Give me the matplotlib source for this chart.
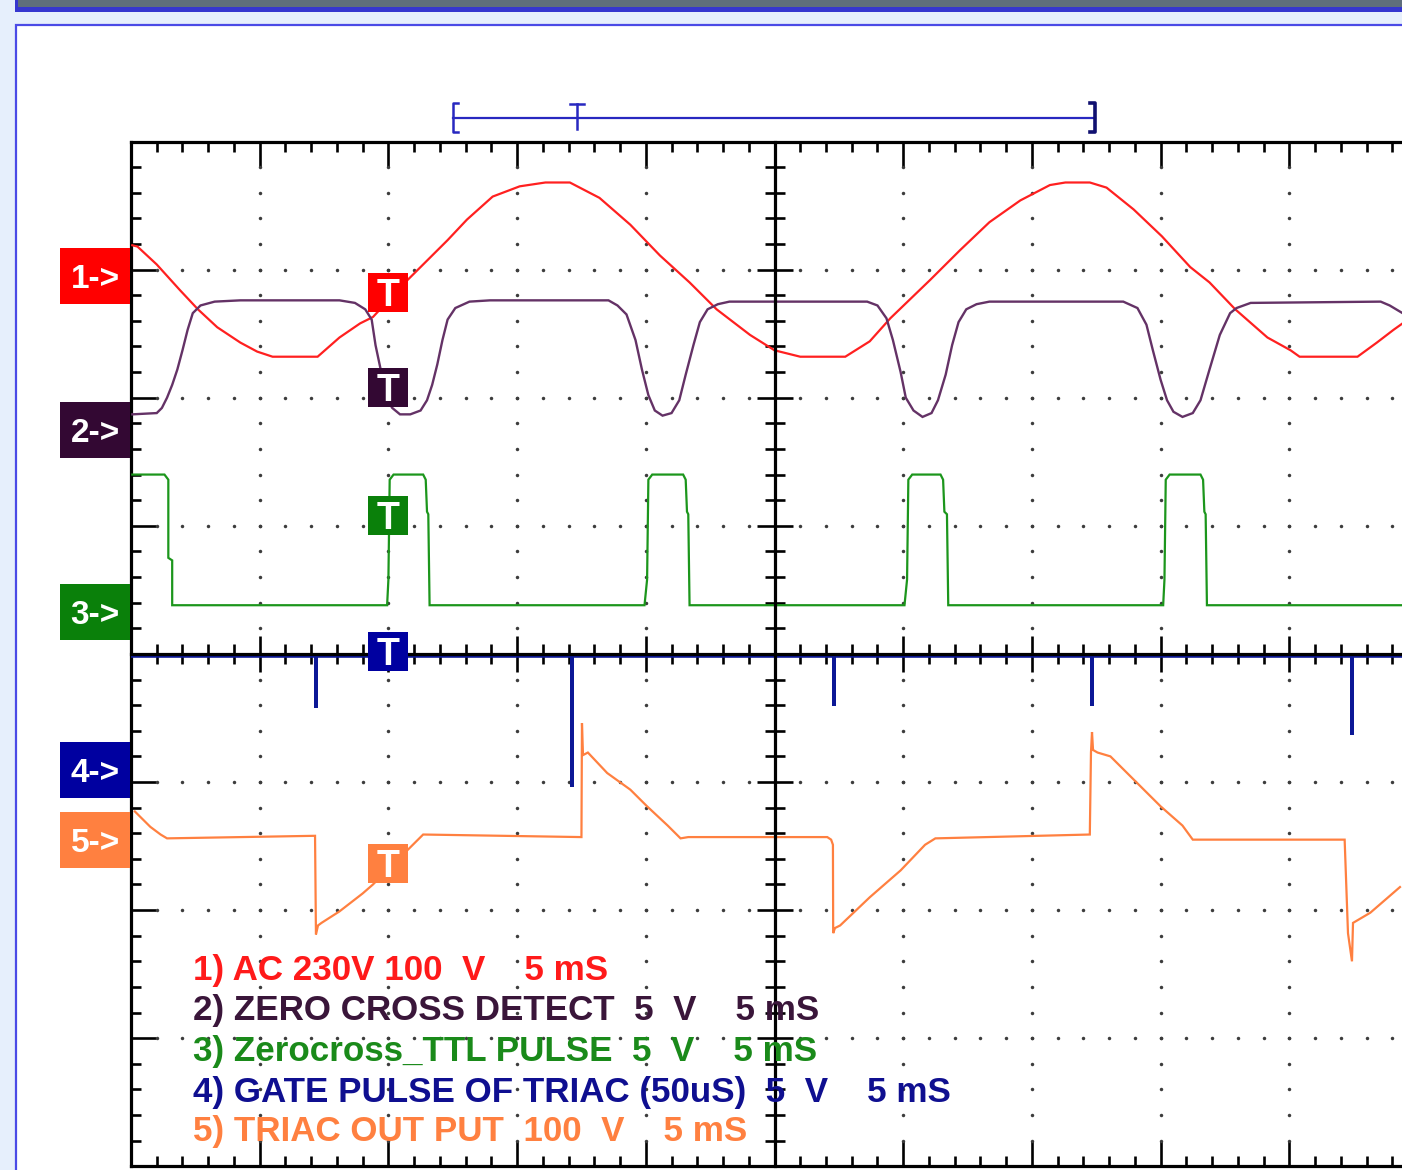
import matplotlib
matplotlib.use('Agg')
import matplotlib.pyplot as plt
import matplotlib.transforms as mtrans
from matplotlib.patches import Rectangle
from matplotlib.ticker import MultipleLocator
import numpy as np

plt.rcParams['font.family'] = ['Liberation Sans', 'DejaVu Sans']

# ---------------- data (time in divisions of 5 ms, level in divisions) ----------------
# CH1 : AC 230V mains
ch1_t = [0.01, 0.05, 0.20, 0.38, 0.52, 0.67, 0.85, 0.98, 1.10, 1.45,
         1.62, 1.78, 1.88, 2.15, 2.25, 2.46, 2.61, 2.81, 3.02, 3.22,
         3.41, 3.64, 3.88, 4.11, 4.34, 4.55, 4.81, 5.00, 5.20, 5.55,
         5.74, 5.90, 6.21, 6.44, 6.67, 6.91, 7.14, 7.26, 7.45, 7.58,
         7.79, 8.01, 8.23, 8.38, 8.58, 8.83, 9.01, 9.08, 9.53, 9.68,
         9.81, 9.88]
ch1_v = [3.19, 3.18, 3.04, 2.84, 2.69, 2.55, 2.43, 2.36, 2.32, 2.32,
         2.47, 2.58, 2.63, 2.92, 3.02, 3.23, 3.39, 3.57, 3.65, 3.68,
         3.68, 3.56, 3.35, 3.11, 2.90, 2.69, 2.49, 2.37, 2.32, 2.32,
         2.44, 2.62, 2.92, 3.15, 3.37, 3.54, 3.66, 3.68, 3.68, 3.64,
         3.47, 3.26, 3.02, 2.90, 2.69, 2.47, 2.37, 2.32, 2.32, 2.43,
         2.53, 2.58]

# CH2 : zero cross detect
ch2_t = [0.01, 0.20, 0.24, 0.28, 0.32, 0.36, 0.40, 0.44, 0.48, 0.54, 0.65, 0.85, 1.31,
         1.62, 1.74, 1.82, 1.87, 1.90, 1.94, 1.97, 2.03, 2.09, 2.17, 2.25, 2.30, 2.34,
         2.38, 2.42, 2.46, 2.52, 2.63, 2.79,
         3.71, 3.78, 3.85, 3.92, 3.97, 4.02, 4.07, 4.13, 4.20, 4.26, 4.31, 4.37, 4.42,
         4.48, 4.56, 4.65,
         5.72, 5.80, 5.87, 5.92, 5.98, 6.02, 6.08, 6.15, 6.22, 6.27, 6.33, 6.38, 6.43,
         6.49, 6.57, 6.67,
         7.71, 7.82, 7.89, 7.94, 8.00, 8.05, 8.10, 8.17, 8.25, 8.31, 8.38, 8.46, 8.54,
         8.59, 8.70,
         9.71, 9.78, 9.88]
ch2_v = [1.87, 1.88, 1.92, 2.00, 2.10, 2.22, 2.37, 2.53, 2.66, 2.72, 2.75, 2.76, 2.76,
         2.76, 2.74, 2.69, 2.61, 2.41, 2.22, 2.02, 1.92, 1.87, 1.87, 1.90, 1.98, 2.10,
         2.26, 2.45, 2.61, 2.70, 2.75, 2.76,
         2.76, 2.72, 2.65, 2.45, 2.22, 2.02, 1.90, 1.86, 1.88, 1.98, 2.18, 2.41, 2.59,
         2.69, 2.73, 2.75,
         2.75, 2.72, 2.62, 2.45, 2.20, 2.00, 1.90, 1.85, 1.88, 1.98, 2.18, 2.41, 2.59,
         2.69, 2.73, 2.75,
         2.75, 2.70, 2.57, 2.37, 2.14, 1.98, 1.89, 1.85, 1.88, 1.98, 2.22, 2.49, 2.66,
         2.70, 2.74,
         2.75, 2.72, 2.66]

# CH3 : zero cross TTL pulse
ch3_t = [0.01, 0.26, 0.29, 0.29, 0.32, 0.32,
         1.99, 2.00, 2.01, 2.04, 2.27, 2.29, 2.30, 2.31, 2.32,
         3.99, 4.01, 4.02, 4.05, 4.29, 4.31, 4.32, 4.33, 4.34,
         6.01, 6.03, 6.04, 6.07, 6.29, 6.31, 6.32, 6.34, 6.35,
         8.02, 8.03, 8.04, 8.07, 8.31, 8.33, 8.34, 8.35, 8.36,
         9.88]
ch3_v = [1.40, 1.40, 1.36, 0.75, 0.73, 0.38,
         0.38, 0.58, 1.36, 1.40, 1.40, 1.36, 1.11, 1.09, 0.38,
         0.38, 0.58, 1.36, 1.40, 1.40, 1.36, 1.11, 1.09, 0.38,
         0.38, 0.58, 1.36, 1.40, 1.40, 1.36, 1.11, 1.09, 0.38,
         0.38, 0.58, 1.36, 1.40, 1.40, 1.36, 1.11, 1.09, 0.38,
         0.38]

# CH4 : gate pulse of triac
ch4_t = [0.00, 1.44, 1.44, 1.44, 3.43, 3.43, 3.43, 5.46, 5.46, 5.46,
         7.47, 7.47, 7.47, 9.49, 9.49, 9.49, 9.88]
ch4_v = [-0.015, -0.015, -0.42, -0.015, -0.015, -1.04, -0.015, -0.015, -0.41, -0.015,
         -0.015, -0.41, -0.015, -0.015, -0.63, -0.015, -0.015]

# CH5 : triac output
ch5_t = [0.03, 0.15, 0.23, 0.28,
         1.43, 1.437, 1.453, 1.48, 1.62, 1.80, 1.88, 2.17, 2.27,
         3.50, 3.504, 3.512, 3.55, 3.70, 3.88, 4.01, 4.17, 4.27, 4.33,
         5.41, 5.44, 5.454, 5.456, 5.47, 5.51, 5.74, 5.98, 6.17, 6.25,
         7.45, 7.459, 7.467, 7.475, 7.51, 7.61, 7.79, 8.00, 8.17, 8.25,
         9.43, 9.456, 9.487, 9.495, 9.63, 9.86]
ch5_v = [-1.23, -1.35, -1.41, -1.44,
         -1.42, -2.19, -2.12, -2.10, -2.01, -1.87, -1.80, -1.51, -1.41,
         -1.43, -0.54, -0.79, -0.77, -0.93, -1.06, -1.19, -1.34, -1.44, -1.43,
         -1.43, -1.45, -1.49, -2.18, -2.14, -2.12, -1.90, -1.69, -1.49, -1.44,
         -1.41, -0.77, -0.61, -0.75, -0.77, -0.80, -0.98, -1.19, -1.34, -1.45,
         -1.45, -2.18, -2.40, -2.10, -2.02, -1.82]

channel_names = ['1->', '2->', '3->', '4->', '5->']
channel_offsets = [2.95, 1.75, 0.33, -0.91, -1.45]
trigger_levels = [2.82, 2.08, 1.08, 0.02, -1.64]
trigger_time = 2.0
legend_lines = ['1) AC 230V 100  V    5 mS',
                '2) ZERO CROSS DETECT  5  V    5 mS',
                '3) Zerocross_TTL PULSE  5  V    5 mS',
                '4) GATE PULSE OF TRIAC (50uS)  5  V    5 mS',
                '5) TRIAC OUT PUT  100  V    5 mS']
memory_window = (2.50, 7.49)
memory_trigger = 3.465

# ---------------- styles ----------------
trace_colors = ['#ff2020', '#643266', '#1c961c', '#0c1896', '#ff8040']
box_colors = ['#ff0000', '#330833', '#0a800a', '#0000a0', '#ff8040']
text_colors = ['#ff1a1a', '#3a163a', '#1a8a1a', '#0f0f90', '#ff8040']

W, H = 1402, 1170
fig = plt.figure(figsize=(W / 100, H / 100), dpi=100)
fig.patch.set_facecolor('#e6effc')


def frect(x, y, w, h, **kw):
    fig.add_artist(Rectangle((x / W, 1 - (y + h) / H), w / W, h / H,
                             transform=fig.transFigure, zorder=-10, **kw))


# window decoration
frect(15, -5, 1400, 17, fc='#3636cf', ec='none')
frect(18, -5, 1400, 12, fc='#5f6e7c', ec='none')
frect(16, 25, 1400, 1160, fc='white', ec='#4a4ae6', lw=1.6)

# graticule geometry
px_div_x = 128.7
px_div_y = 128.1
left_px, top_px = 131, 141.5
bot_px = top_px + 8 * px_div_y
pos = [left_px / W, 1 - bot_px / H, (W - left_px) / W, (bot_px - top_px) / H]
xmax = (W - left_px) / px_div_x

ax = fig.add_axes(pos)
ax.set_xlim(0, xmax)
ax.set_ylim(-4, 4)
ax.set_facecolor('none')
ax.spines['right'].set_visible(False)
for s in ['top', 'left', 'bottom']:
    ax.spines[s].set_linewidth(2.3)
ax.xaxis.set_ticks_position('both')
ax.yaxis.set_ticks_position('left')
for a in (ax.xaxis, ax.yaxis):
    a.set_major_locator(MultipleLocator(1))
    a.set_minor_locator(MultipleLocator(0.2))
ax.tick_params(which='both', direction='in', width=1.9, color='black',
               labelbottom=False, labelleft=False, labeltop=False)
ax.tick_params(which='major', length=18)
ax.tick_params(which='minor', length=7.5)

# dotted graticule
dot_x, dot_y = [], []
for gx in [1, 2, 3, 4, 6, 7, 8, 9]:
    for gy in np.arange(-4, 4.001, 0.2):
        dot_x.append(gx); dot_y.append(gy)
for gy in [-3, -2, -1, 1, 2, 3]:
    for gx in np.arange(0, xmax, 0.2):
        dot_x.append(gx); dot_y.append(gy)
ax.plot(dot_x, dot_y, ls='none', marker='o', ms=2.5, mew=0, color='#3c3c3c')

# centre cross
ax2 = fig.add_axes(pos)
ax2.set_xlim(0, xmax)
ax2.set_ylim(-4, 4)
ax2.set_facecolor('none')
ax2.spines['top'].set_visible(False)
ax2.spines['right'].set_visible(False)
ax2.spines['left'].set_position(('data', 5.0))
ax2.spines['bottom'].set_position(('data', 0.0))
for s in ['left', 'bottom']:
    ax2.spines[s].set_linewidth(2.3)
for a in (ax2.xaxis, ax2.yaxis):
    a.set_major_locator(MultipleLocator(1))
    a.set_minor_locator(MultipleLocator(0.2))
ax2.tick_params(which='both', direction='inout', width=1.9, color='black',
                labelbottom=False, labelleft=False)
ax2.tick_params(which='major', length=26)
ax2.tick_params(which='minor', length=14)

# traces
series = [(ch1_t, ch1_v), (ch2_t, ch2_v), (ch3_t, ch3_v), (ch4_t, ch4_v), (ch5_t, ch5_v)]
widths = [1.6, 1.7, 1.6, 2.6, 1.6]
for (t, v), c, lw in zip(series, trace_colors, widths):
    ax2.plot(t, v, color=c, lw=lw, solid_joinstyle='miter', zorder=2)

# channel reference markers on the left
bw, bh = 70 / px_div_x, 56 / px_div_y
for name, off, c in zip(channel_names, channel_offsets, box_colors):
    ax2.add_patch(Rectangle((-bw - 0.006, off - bh / 2), bw, bh, fc=c, ec='none',
                            clip_on=False, zorder=5))
    cap = 0.716 * 24 * 100 / 72
    tr = mtrans.offset_copy(ax2.transData, fig=fig, x=0, y=-cap / 2, units='dots')
    ax2.text(-bw / 2 - 0.006, off, name, color='white', fontsize=24, fontweight='bold',
             ha='center', va='baseline', transform=tr, clip_on=False, zorder=6)

# trigger markers
tw, th = 40 / px_div_x, 39 / px_div_y
for lvl, c in zip(trigger_levels, box_colors):
    ax2.add_patch(Rectangle((trigger_time - tw / 2, lvl - th / 2), tw, th, fc=c, ec='none',
                            zorder=5))
    cap = 0.716 * 27 * 100 / 72
    tr = mtrans.offset_copy(ax2.transData, fig=fig, x=0, y=-cap / 2, units='dots')
    ax2.text(trigger_time, lvl, 'T', color='white', fontsize=27, fontweight='bold',
             ha='center', va='baseline', transform=tr, zorder=6)

# legend text
leg_y = [-2.47, -2.78, -3.10, -3.42, -3.73]
for line, yy, c in zip(legend_lines, leg_y, text_colors):
    ax2.text(0.48, yy, line, color=c, fontsize=25.2, fontweight='bold',
             ha='left', va='center', zorder=6)

# memory window bracket above the graticule
yl, yt, yb = 4.184, 4.30, 4.075
bc = '#2828c0'
ax2.plot(memory_window, [yl, yl], color=bc, lw=1.6, clip_on=False)
ax2.plot([memory_window[0] + 0.04, memory_window[0], memory_window[0], memory_window[0] + 0.04],
         [yt, yt, yb, yb], color=bc, lw=1.8, clip_on=False)
ax2.plot([memory_window[1] - 0.04, memory_window[1], memory_window[1], memory_window[1] - 0.04],
         [yt, yt, yb, yb], color='#101070', lw=2.6, clip_on=False)
ax2.plot([memory_trigger, memory_trigger], [4.29, 4.10], color=bc, lw=1.8, clip_on=False)
ax2.plot([memory_trigger - 0.055, memory_trigger + 0.055], [4.29, 4.29], color=bc, lw=1.8,
         clip_on=False)

fig.savefig('out.png', dpi=100)
